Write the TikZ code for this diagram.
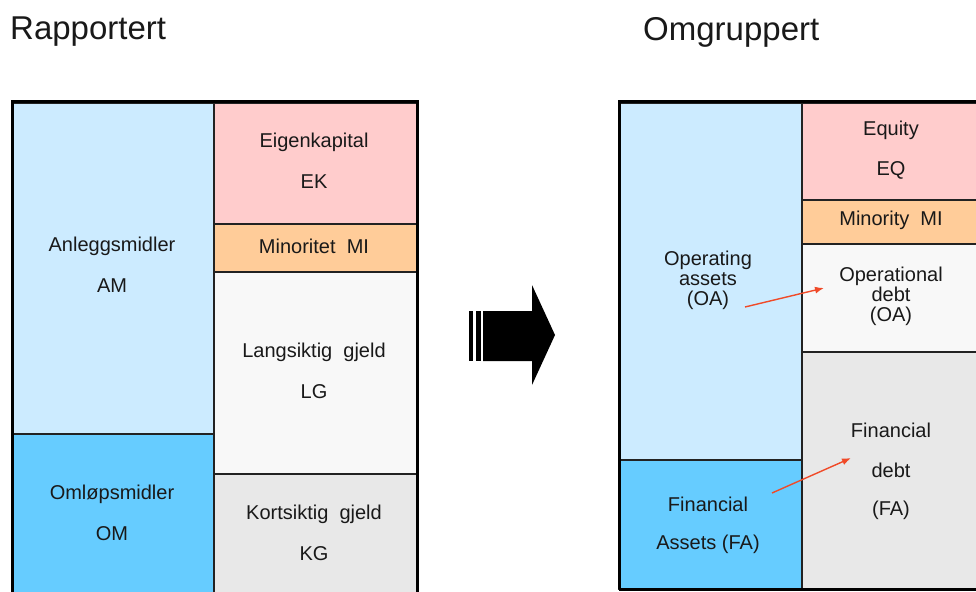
\documentclass[tikz,border=0pt]{standalone}
\usepackage{fontspec}
\setmainfont{Liberation Sans}
\usetikzlibrary{arrows.meta}
\definecolor{lblue}{HTML}{CCEBFF}
\definecolor{dblue}{HTML}{66CCFF}
\definecolor{pinkc}{HTML}{FFCCCC}
\definecolor{orangec}{HTML}{FFCC99}
\definecolor{whitec}{HTML}{F8F8F8}
\definecolor{grayc}{HTML}{E8E8E8}
\definecolor{redarr}{HTML}{F04A28}
\definecolor{linec}{HTML}{222222}
\tikzset{
  region/.style={rectangle, draw=linec, line width=1.5pt, inner sep=0pt, outer sep=0pt, anchor=north west},
  frame/.style={draw=black, line width=3pt},
  lbl/.style={font=\fontsize{20}{20}\selectfont, text=black!90, inner sep=0pt},
  stack/.style={font=\fontsize{20}{20}\selectfont, text=black!90, inner sep=0pt, align=center},
  title/.style={font=\fontsize{33}{33}\selectfont, text=black!90, inner sep=0pt, anchor=west},
  redarrow/.style={draw=redarr, line width=1.4pt, -{Latex[length=9pt,width=7pt]}},
}
\begin{document}
\begin{tikzpicture}[x=1pt,y=-1pt]
\useasboundingbox (0,0) rectangle (976,591);
\clip (0,0) rectangle (976,591);
% titles
\node[title] (t1) at (10,32) {Rapportert};
\node[title] (t2) at (643,32) {Omgruppert};
% left balance
\node[region, fill=lblue, minimum width=202pt, minimum height=331pt] (am) at (12,103) {};
\node[region, fill=dblue, minimum width=202pt, minimum height=170pt] (om) at (12,434) {};
\node[region, fill=pinkc, minimum width=203pt, minimum height=121pt] (ek) at (214,103) {};
\node[region, fill=orangec, minimum width=203pt, minimum height=48pt] (mi) at (214,224) {};
\node[region, fill=whitec, minimum width=203pt, minimum height=202pt] (lg) at (214,272) {};
\node[region, fill=grayc, minimum width=203pt, minimum height=130pt] (kg) at (214,474) {};
\draw[frame] (12,600) -- (12,102) -- (417,102) -- (417,600);
% left texts
\node[lbl] (t_ek1) at (314,142) {Eigenkapital};
\node[lbl] (t_ek2) at (314,182) {EK};
\node[lbl] (t_mi) at (314,246) {Minoritet\ \ MI};
\node[lbl] (t_lg1) at (314,352) {Langsiktig\ \ gjeld};
\node[lbl] (t_lg2) at (314,392) {LG};
\node[lbl] (t_kg1) at (314,514) {Kortsiktig\ \ gjeld};
\node[lbl] (t_kg2) at (314,554) {KG};
\node[lbl] (t_am1) at (112,246) {Anleggsmidler};
\node[lbl] (t_am2) at (112,286) {AM};
\node[lbl] (t_om1) at (112,494) {Omløpsmidler};
\node[lbl] (t_om2) at (112,534) {OM};
% big arrow
\fill[black] (483,311) -- (532,311) -- (532,285) -- (555,335) -- (532,385) -- (532,361) -- (483,361) -- cycle;
\fill[black] (469,311) rectangle (473,361);
\fill[black] (476,311) rectangle (481,361);
% right balance
\node[region, fill=lblue, minimum width=183pt, minimum height=357pt] (oa) at (619,103) {};
\node[region, fill=dblue, minimum width=183pt, minimum height=129pt] (fa) at (619,460) {};
\node[region, fill=pinkc, minimum width=200pt, minimum height=97pt] (eq) at (802,103) {};
\node[region, fill=orangec, minimum width=200pt, minimum height=44pt] (mi2) at (802,200) {};
\node[region, fill=whitec, minimum width=200pt, minimum height=108pt] (od) at (802,244) {};
\node[region, fill=grayc, minimum width=200pt, minimum height=237pt] (fd) at (802,352) {};
\draw[frame] (619,589) -- (619,102) -- (1000,102);
\draw[frame] (619,589) -- (1000,589);
% right texts
\node[lbl] (r_eq1) at (891,130) {Equity};
\node[lbl] (r_eq2) at (891,170) {EQ};
\node[lbl] (r_mi) at (891,220) {Minority\ \ MI};
\node[stack] (r_od) at (891,296) {Operational\\debt\\(OA)};
\node[lbl] (r_fd1) at (891,430) {Financial};
\node[lbl] (r_fd2) at (891,470) {debt};
\node[lbl] (r_fd3) at (891,510) {(FA)};
\node[stack] (r_oa) at (708,280) {Operating\\assets\\(OA)};
\node[lbl] (r_fa1) at (708,504) {Financial};
\node[lbl] (r_fa2) at (708,544) {Assets (FA)};
% red arrows
\coordinate (a1s) at (745,307);
\coordinate (a1e) at (824,288);
\coordinate (a2s) at (772,493);
\coordinate (a2e) at (851,458);
\draw[redarrow] (a1s) -- (a1e);
\draw[redarrow] (a2s) -- (a2e);
\end{tikzpicture}
\end{document}
